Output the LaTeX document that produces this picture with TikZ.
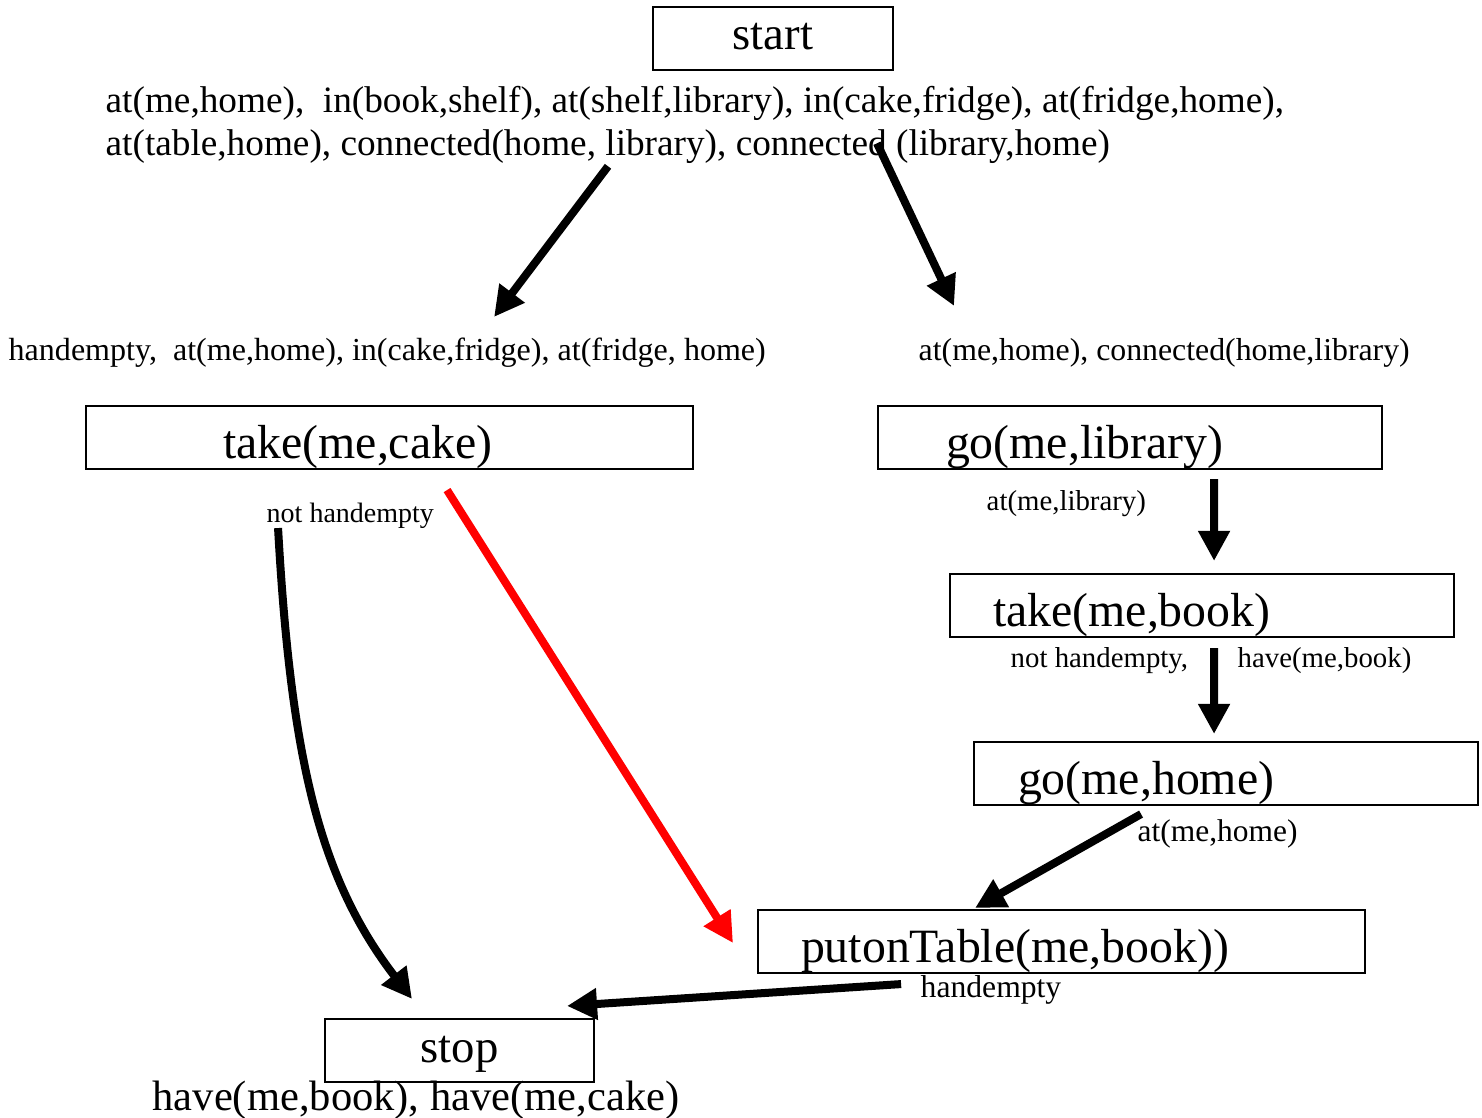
\documentclass[tikz,border=0pt]{standalone}
\usepackage{fontspec}
\setmainfont{Liberation Serif}
\usetikzlibrary{arrows.meta}

\tikzset{
  term/.style={draw, line width=0.6pt, minimum width=2.4cm, minimum height=0.63cm, inner ysep=0pt, text height=0.43cm, text depth=0.2cm, font=\fontsize{13.3}{16}\selectfont},
  act/.style={draw, line width=0.6pt, minimum height=0.63cm, inner ysep=0pt, text height=0.52cm, text depth=0.11cm, align=left, anchor=west, font=\fontsize{13.6}{16}\selectfont},
  lbl/.style={inner sep=0pt, anchor=west, font=\fontsize{8.2}{10}\selectfont},
  arr/.style={line width=0.08cm, -{Triangle[length=0.30cm,width=0.30cm]}},
}

\begin{document}
\begin{tikzpicture}
\useasboundingbox (0,0) rectangle (14.82,-11.17);

% start and initial state
\node[term] (start) at (7.73,-0.385) {start};
\node[inner sep=0pt, anchor=west, align=left, font=\fontsize{10.6}{12.2}\selectfont] (init) at (1.05,-1.25)
  {at(me,home),~ in(book,shelf), at(shelf,library), in(cake,fridge), at(fridge,home),\\
   at(table,home), connected(home, library), connected (library,home)};

% preconditions
\node[lbl, font=\fontsize{9.12}{11}\selectfont] (pre1) at (0.08,-3.53) {handempty,~ at(me,home), in(cake,fridge), at(fridge, home)};
\node[lbl, font=\fontsize{9.05}{11}\selectfont] (pre2) at (9.18,-3.53) {at(me,home), connected(home,library)};

% actions
\node[act, inner xsep=1.37cm, text width=3.33cm] (takecake) at (0.85,-4.375) {take(me,cake)};
\node[act, inner xsep=0.68cm, text width=3.68cm] (golib) at (8.77,-4.375) {go(me,library)};
\node[act, inner xsep=0.43cm, text width=4.18cm] (takebook) at (9.49,-6.055) {take(me,book)};
\node[act, inner xsep=0.44cm, text width=4.16cm] (gohome) at (9.73,-7.735) {go(me,home)};
\node[act, inner xsep=0.43cm, text width=5.21cm] (puton) at (7.57,-9.415) {putonTable(me,book))};
\node[term, minimum width=2.69cm] (stop) at (4.595,-10.505) {stop};

% effects
\node[lbl, font=\fontsize{7.97}{10}\selectfont] (nothand1) at (2.66,-5.16) {not handempty};
\node[lbl] (atlib) at (9.86,-5.04) {at(me,library)};
\node[lbl] (nothand2) at (10.10,-6.61) {not handempty,};
\node[lbl] (havebook) at (12.37,-6.61) {have(me,book)};
\node[lbl, font=\fontsize{8.95}{11}\selectfont] (athome) at (11.37,-8.34) {at(me,home)};
\node[lbl, font=\fontsize{9}{11}\selectfont] (handempty) at (9.20,-9.90) {handempty};
\node[lbl, font=\fontsize{12.1}{14}\selectfont] (goal) at (1.52,-11.00) {have(me,book), have(me,cake)};

% links
\draw[arr] ([xshift=5.03cm,yshift=-0.02cm]init.south west) -- ([xshift=1.045cm,yshift=0.88cm]takecake.north);
\draw[arr] ([xshift=7.72cm,yshift=0.21cm]init.south west) -- ([xshift=-1.76cm,yshift=0.99cm]golib.north);
\draw[arr] ([xshift=0.84cm,yshift=-0.09cm]golib.south) -- ([xshift=0.12cm,yshift=0.12cm]takebook.north);
\draw[arr] ([xshift=0.12cm,yshift=-0.10cm]takebook.south) -- ([xshift=-0.12cm,yshift=0.07cm]gohome.north);
\draw[arr] ([xshift=-0.85cm,yshift=-0.08cm]gohome.south) -- ([xshift=-0.865cm,yshift=0.01cm]puton.north);
\draw[arr] ([xshift=-1.605cm,yshift=-0.10cm]puton.south) -- ([xshift=-0.28cm,yshift=0.12cm]stop.north east);
\draw[arr] ([xshift=-1.115cm,yshift=-0.58cm]takecake.south) .. controls +(0.13,-2.33) and +(-0.92,1.20) .. ([xshift=-0.475cm,yshift=0.19cm]stop.north);

% threat
\draw[arr, red] ([xshift=0.575cm,yshift=-0.20cm]takecake.south) -- ([xshift=-0.24cm,yshift=-0.015cm]puton.west);
\end{tikzpicture}
\end{document}
